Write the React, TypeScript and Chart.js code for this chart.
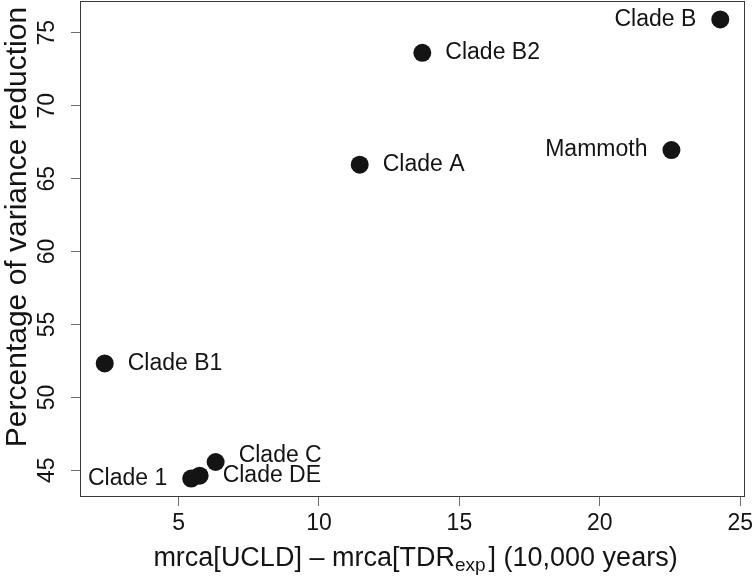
import React, { useEffect, useRef } from 'react';
import { Chart, registerables } from 'chart.js';

Chart.register(...registerables);

const cladeNames = ['Clade B', 'Clade B2', 'Mammoth', 'Clade A', 'Clade B1', 'Clade C', 'Clade DE', 'Clade 1'];
const mrcaDifference = [24.29, 13.68, 22.55, 11.45, 2.37, 6.32, 5.75, 5.45];
const varianceReduction = [75.92, 73.63, 66.96, 65.96, 52.33, 45.57, 44.63, 44.43];
const labelSide = ['left', 'right', 'left', 'right', 'right', 'right', 'right', 'left'];
const labelLift = [0, 0, 0, 0, 0, 6, 0, 0];

const xRange = [1.49, 25.17];
const yRange = [43.17, 77.18];
const tickStep = 5;

const yTitle = 'Percentage of variance reduction';
const xTitleParts = ['mrca[UCLD] \u2013 mrca[TDR', 'exp', '] (10,000 years)'];

const FONT = '"Liberation Sans", Arial, Helvetica, sans-serif';
const INK = '#141414';

const overlay = {
  id: 'overlay',
  afterDraw(chart: any) {
    const ctx = chart.ctx as CanvasRenderingContext2D;
    const { left, right, top, bottom } = chart.chartArea;
    ctx.save();
    ctx.strokeStyle = '#3a3a3a';
    ctx.lineWidth = 1;
    ctx.strokeRect(Math.round(left) + 0.5, Math.round(top) + 0.5, Math.round(right - left) - 1, Math.round(bottom - top) - 1);

    const meta = chart.getDatasetMeta(0);
    ctx.font = `23px ${FONT}`;
    ctx.fillStyle = INK;
    ctx.textBaseline = 'middle';
    meta.data.forEach((pt: any, i: number) => {
      const side = labelSide[i];
      ctx.textAlign = side === 'left' ? 'right' : 'left';
      const dx = side === 'left' ? -24 : 23;
      ctx.fillText(cladeNames[i], pt.x + dx, pt.y - labelLift[i]);
    });

    // x-axis title with subscript
    const xs = chart.scales.x;
    const mainFont = `27px ${FONT}`;
    const subFont = `19px ${FONT}`;
    ctx.font = mainFont;
    const w0 = ctx.measureText(xTitleParts[0]).width;
    const w2 = ctx.measureText(xTitleParts[2]).width;
    ctx.font = subFont;
    const w1 = ctx.measureText(xTitleParts[1]).width + 3;
    const total = w0 + w1 + w2;
    let x = (left + right) / 2 - total / 2 + 3;
    const baseY = xs.bottom - 10;
    ctx.textAlign = 'left';
    ctx.textBaseline = 'alphabetic';
    ctx.font = mainFont;
    ctx.fillText(xTitleParts[0], x, baseY);
    x += w0;
    ctx.font = subFont;
    ctx.fillText(xTitleParts[1], x, baseY + 5);
    x += w1;
    ctx.font = mainFont;
    ctx.fillText(xTitleParts[2], x, baseY);

    // y-axis title
    const ys = chart.scales.y;
    ctx.save();
    ctx.translate(ys.left + 26, (top + bottom) / 2 - 22);
    ctx.rotate(-Math.PI / 2);
    ctx.font = `30px ${FONT}`;
    ctx.textAlign = 'center';
    ctx.textBaseline = 'alphabetic';
    ctx.fillText(yTitle, 0, 0);
    ctx.restore();

    ctx.restore();
  },
};

export default function App() {
  const ref = useRef<HTMLCanvasElement>(null);
  useEffect(() => {
    if (!ref.current) return;
    const chart = new Chart(ref.current, {
      type: 'scatter',
      data: {
        datasets: [
          {
            label: 'Clades',
            data: mrcaDifference.map((v, i) => ({ x: v, y: varianceReduction[i] })),
            pointRadius: 9,
            pointHoverRadius: 9,
            pointBackgroundColor: INK,
            pointBorderColor: INK,
            pointBorderWidth: 0,
          },
        ],
      },
      options: {
        animation: false,
        responsive: false,
        devicePixelRatio: 1,
        layout: { autoPadding: false, padding: { left: 0, right: 10, top: 1, bottom: 0 } },
        plugins: { legend: { display: false }, tooltip: { enabled: false } },
        scales: {
          x: {
            type: 'linear',
            min: xRange[0],
            max: xRange[1],
            afterFit: (s: any) => { s.height = 79; s.paddingLeft = 0; s.paddingRight = 0; },
            border: { display: false },
            grid: { drawOnChartArea: false, drawTicks: true, tickLength: 9, color: '#6e6e6e' },
            ticks: {
              stepSize: tickStep,
              includeBounds: false,
              autoSkip: false,
              maxRotation: 0,
              padding: 4,
              color: INK,
              font: { family: FONT, size: 23 },
            },
          },
          y: {
            type: 'linear',
            min: yRange[0],
            max: yRange[1],
            afterFit: (s: any) => { s.width = 80; s.paddingTop = 0; s.paddingBottom = 0; },
            border: { display: false },
            grid: { drawOnChartArea: false, drawTicks: true, tickLength: 9, color: '#6e6e6e' },
            ticks: {
              stepSize: tickStep,
              includeBounds: false,
              autoSkip: false,
              minRotation: 90,
              maxRotation: 90,
              crossAlign: 'center',
              padding: 11,
              color: INK,
              font: { family: FONT, size: 23 },
            },
          },
        },
      },
      plugins: [overlay],
    } as any);
    return () => chart.destroy();
  }, []);
  return (
    <div style={{ position: 'fixed', left: 0, top: 0, width: 755, height: 576, background: '#fff' }}>
      <canvas ref={ref} width={755} height={576} style={{ display: 'block' }} />
    </div>
  );
}
